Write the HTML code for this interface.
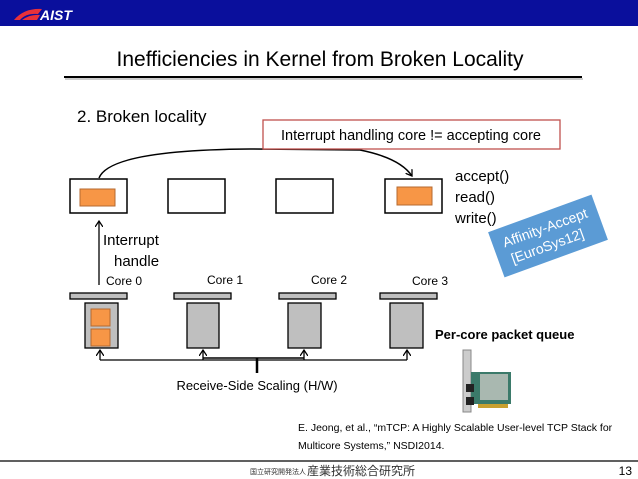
<!DOCTYPE html>
<html><head><meta charset="utf-8"><style>
html,body{margin:0;padding:0;background:#fff;}
svg{display:block;font-family:"Liberation Sans","Noto Sans CJK JP",sans-serif;}
</style></head><body>
<svg width="638" height="479" viewBox="0 0 638 479" xmlns="http://www.w3.org/2000/svg">
<defs>
<marker id="ah" markerWidth="8" markerHeight="8" refX="6" refY="4" orient="auto" markerUnits="userSpaceOnUse">
<path d="M0,0 L6,4 L0,8" fill="none" stroke="#000" stroke-width="1.3"/>
</marker>
</defs>
<rect x="0" y="0" width="638" height="26" fill="#0a0f9c"/>
<path d="M14,20 Q24,8 42,9 L38,14 Q26,13 20,20 Z" fill="#e8313a"/>
<path d="M22,20 Q30,14 40,15 L37,20 Z" fill="#e8313a"/>
<text x="40" y="20" font-size="14" font-weight="bold" font-style="italic" fill="#fff">AIST</text>
<text x="320" y="66" font-size="21" text-anchor="middle" fill="#000">Inefficiencies in Kernel from Broken Locality</text>
<line x1="64" y1="77" x2="582" y2="77" stroke="#000" stroke-width="2"/>
<line x1="65" y1="79" x2="583" y2="79" stroke="#999" stroke-width="1"/>
<text x="77" y="122" font-size="17">2. Broken locality</text>
<path d="M99,178 Q110,150 250,149 L360,150 Q400,158 412,176" fill="none" stroke="#000" stroke-width="1.5" marker-end="url(#ah)"/>
<rect x="263" y="120" width="297" height="29" fill="#fff" stroke="#c0504d" stroke-width="1.3"/>
<text x="411" y="140" font-size="14.5" text-anchor="middle">Interrupt handling core != accepting core</text>
<g fill="#fff" stroke="#000" stroke-width="1.5">
<rect x="70" y="179" width="57" height="34"/>
<rect x="168" y="179" width="57" height="34"/>
<rect x="276" y="179" width="57" height="34"/>
<rect x="385" y="179" width="57" height="34"/>
</g>
<rect x="80" y="189" width="35" height="17" fill="#f79646" stroke="#b46a30"/>
<rect x="397" y="187" width="35" height="18" fill="#f79646" stroke="#b46a30"/>
<g font-size="15">
<text x="455" y="181">accept()</text>
<text x="455" y="202">read()</text>
<text x="455" y="223">write()</text>
<text x="103" y="245">Interrupt</text>
<text x="114" y="266">handle</text>
</g>
<line x1="99" y1="285" x2="99" y2="221" stroke="#000" stroke-width="1.3" marker-end="url(#ah)"/>
<g font-size="12">
<text x="106" y="285">Core 0</text>
<text x="207" y="284">Core 1</text>
<text x="311" y="284">Core 2</text>
<text x="412" y="285">Core 3</text>
</g>
<g fill="#bfbfbf" stroke="#000" stroke-width="1.3">
<rect x="70" y="293" width="57" height="6"/>
<rect x="174" y="293" width="57" height="6"/>
<rect x="279" y="293" width="57" height="6"/>
<rect x="380" y="293" width="57" height="6"/>
<rect x="85" y="303" width="33" height="45"/>
<rect x="187" y="303" width="32" height="45"/>
<rect x="288" y="303" width="33" height="45"/>
<rect x="390" y="303" width="33" height="45"/>
</g>
<rect x="91" y="309" width="19" height="17" fill="#f79646" stroke="#b46a30"/>
<rect x="91" y="329" width="19" height="17" fill="#f79646" stroke="#b46a30"/>
<g stroke="#000" stroke-width="1.3" fill="none">
<polyline points="100,360 407,360"/>
<line x1="100" y1="360" x2="100" y2="350" marker-end="url(#ah)"/>
<line x1="203" y1="360" x2="203" y2="350" marker-end="url(#ah)"/>
<line x1="304" y1="360" x2="304" y2="350" marker-end="url(#ah)"/>
<line x1="407" y1="360" x2="407" y2="350" marker-end="url(#ah)"/>
<line x1="257" y1="358" x2="257" y2="373" stroke-width="2.5"/>
<line x1="203" y1="358" x2="304" y2="358" stroke-width="1.5"/>
</g>
<text x="257" y="390" font-size="13" text-anchor="middle">Receive-Side Scaling (H/W)</text>
<g transform="translate(548,236) rotate(-20)">
<rect x="-55" y="-24" width="110" height="48" fill="#5b9bd5"/>
<text x="0" y="-4" font-size="14" fill="#fff" text-anchor="middle">Affinity-Accept</text>
<text x="-4" y="14" font-size="14" fill="#fff" text-anchor="middle">[EuroSys12]</text>
</g>
<text x="435" y="339" font-size="13" font-weight="bold">Per-core packet queue</text>
<rect x="463" y="350" width="8" height="62" fill="#ccc" stroke="#888"/>
<rect x="471" y="372" width="40" height="32" fill="#3b7a6a"/>
<rect x="480" y="374" width="28" height="26" fill="#a9b8b0"/>
<rect x="466" y="384" width="8" height="8" fill="#222"/>
<rect x="466" y="397" width="8" height="8" fill="#222"/>
<rect x="478" y="404" width="30" height="4" fill="#c8a030"/>
<text x="298" y="431" font-size="10.5">E. Jeong, et al., “mTCP: A Highly Scalable User-level TCP Stack for</text>
<text x="298" y="449" font-size="10.5">Multicore Systems,” NSDI2014.</text>
<line x1="0" y1="461" x2="638" y2="461" stroke="#000" stroke-width="1.3"/>
<text x="250" y="474" font-size="7" fill="#333">国立研究開発法人</text>
<text x="307" y="475" font-size="12" fill="#333">産業技術総合研究所</text>
<text x="632" y="475" font-size="12" text-anchor="end">13</text>
</svg>
</body></html>
